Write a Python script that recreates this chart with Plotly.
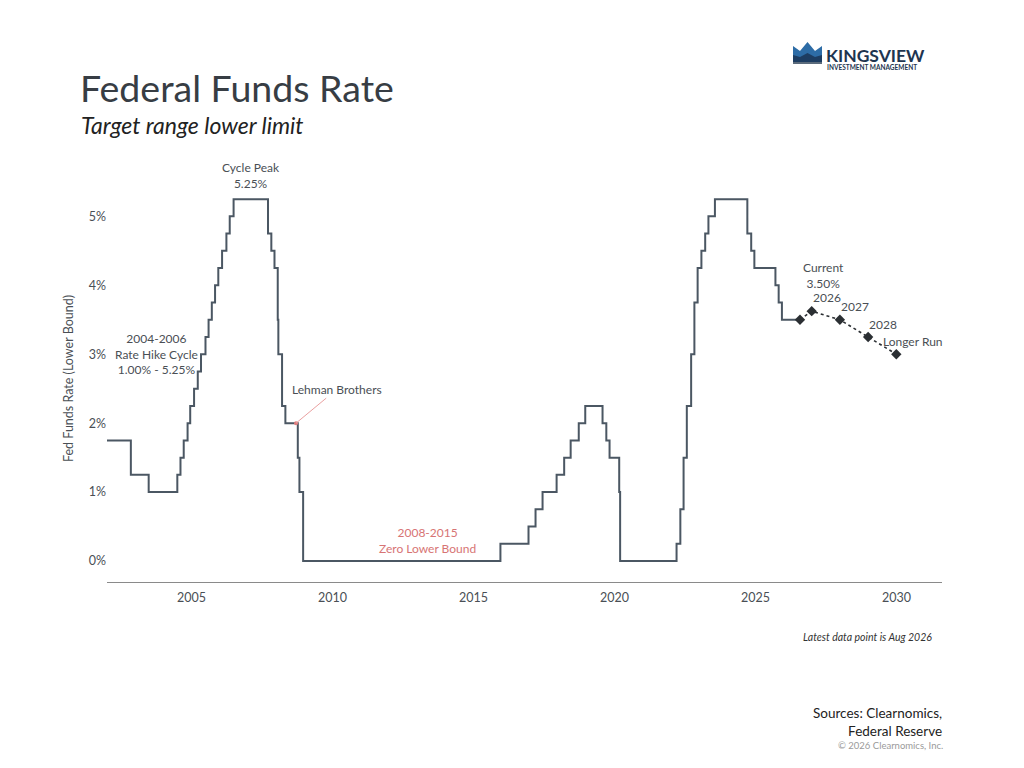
import plotly.graph_objects as go

# Cambios del tipo objetivo (limite inferior), fecha -> tasa
fechas = ["2002-01-01", "2002-11-06", "2003-06-25", "2004-06-30", "2004-08-10",
          "2004-09-21", "2004-11-10", "2004-12-14", "2005-02-02", "2005-03-22",
          "2005-05-03", "2005-06-30", "2005-08-09", "2005-09-20", "2005-11-01",
          "2005-12-13", "2006-01-31", "2006-03-28", "2006-05-10", "2006-06-29",
          "2007-09-18", "2007-10-31", "2007-12-11", "2008-01-22", "2008-01-30",
          "2008-03-18", "2008-04-30", "2008-10-08", "2008-10-29", "2008-12-16",
          "2015-12-16", "2016-12-14", "2017-03-15", "2017-06-14", "2017-12-13",
          "2018-03-21", "2018-06-13", "2018-09-26", "2018-12-19", "2019-07-31",
          "2019-09-18", "2019-10-30", "2020-03-03", "2020-03-15", "2022-03-16",
          "2022-05-04", "2022-06-15", "2022-07-27", "2022-09-21", "2022-11-02",
          "2022-12-14", "2023-02-01", "2023-03-22", "2023-05-03", "2023-07-26",
          "2024-09-18", "2024-11-07", "2024-12-18", "2025-09-17", "2025-10-29",
          "2025-12-10", "2026-08-01"]
tasas = [1.75, 1.25, 1.0, 1.25, 1.5, 1.75, 2.0, 2.25, 2.5, 2.75,
         3.0, 3.25, 3.5, 3.75, 4.0, 4.25, 4.5, 4.75, 5.0, 5.25,
         4.75, 4.5, 4.25, 3.5, 3.0, 2.25, 2.0, 1.5, 1.0, 0.0,
         0.25, 0.5, 0.75, 1.0, 1.25, 1.5, 1.75, 2.0, 2.25, 2.0,
         1.75, 1.5, 1.0, 0.0, 0.25, 0.75, 1.5, 2.25, 3.0, 3.75,
         4.25, 4.5, 4.75, 5.0, 5.25, 4.75, 4.5, 4.25, 4.0, 3.75,
         3.5, 3.5]

# Proyecciones (puntos de la Fed)
proy_fechas = ["2026-08-01", "2026-12-31", "2027-12-31", "2028-12-31", "2029-12-31"]
proy_tasas = [3.5, 3.625, 3.5, 3.25, 3.0]
proy_etiquetas = ["Current<br>3.50%", "2026", "2027", "2028", "Longer Run"]

lehman_fecha = "2008-09-15"
lehman_tasa = 2.0

anios_ticks = [2005, 2010, 2015, 2020, 2025, 2030]
y_ticks = [0, 1, 2, 3, 4, 5]

FUENTE = "Lato"
GRIS = "#4a4f55"
LINEA = "#4b5763"

# la pagina tiene 8px de margen; todo se mide en px de la captura
OFF = 8
W, H = 1024 - 2 * OFF, 768 - 2 * OFF
L, T = 107 - OFF, 175 - OFF
R = W - (942 - OFF)
B = H - (582 - OFF)


def px(x, y):
    # pixel de la captura -> coordenadas paper
    x, y = x - OFF, y - OFF
    return (x - L) / (W - L - R), (H - B - y) / (H - B - T)


fig = go.Figure()

fig.add_trace(go.Scatter(x=fechas, y=tasas, mode="lines", line_shape="hv",
                         line=dict(color=LINEA, width=2), hoverinfo="skip"))

fig.add_trace(go.Scatter(x=proy_fechas, y=proy_tasas, mode="lines+markers",
                         line=dict(color="#2b2f33", width=1.6, dash="dot"),
                         marker=dict(symbol="diamond", size=8, color="#2b2f33"),
                         hoverinfo="skip"))

fig.add_trace(go.Scatter(x=[lehman_fecha], y=[lehman_tasa], mode="markers",
                         marker=dict(size=4, color="#e07d7d"), hoverinfo="skip"))

anotaciones = []

# etiquetas de proyecciones
desplaz = [(24, 44), (15, 14), (15, 13), (15, 13), (17, 13)]
for f, t, txt, (dx, dy) in zip(proy_fechas, proy_tasas, proy_etiquetas, desplaz):
    anotaciones.append(dict(x=f, y=t, text=txt, showarrow=False, xshift=dx, yshift=dy,
                            font=dict(family=FUENTE, size=12, color=GRIS)))

anotaciones += [
    dict(x="2007-02-15", y=5.25, text="Cycle Peak<br>5.25%", showarrow=False,
         yanchor="bottom", yshift=6, font=dict(family=FUENTE, size=12, color=GRIS)),
    dict(x="2003-10-01", y=3.0, text="2004-2006<br>Rate Hike Cycle<br>1.00% - 5.25%",
         showarrow=False, font=dict(family=FUENTE, size=12, color=GRIS)),
    dict(x=lehman_fecha, y=lehman_tasa, text="Lehman Brothers", showarrow=True,
         arrowhead=0, arrowwidth=1, arrowcolor="#eaa0a0", ax=41, ay=-34,
         font=dict(family=FUENTE, size=12, color=GRIS)),
    dict(x="2013-05-15", y=0.3, text="2008-2015<br>Zero Lower Bound", showarrow=False,
         font=dict(family=FUENTE, size=12, color="#d77474")),
]


# titulos y textos
def texto(x, y, txt, size, color, xanchor="left", italic=False, bold=False):
    xp, yp = px(x, y)
    if bold:
        txt = "<b>" + txt + "</b>"
    if italic:
        txt = "<i>" + txt + "</i>"
    return dict(xref="paper", yref="paper", x=xp, y=yp, text=txt, showarrow=False,
                xanchor=xanchor, yanchor="middle", align=xanchor,
                font=dict(family=FUENTE, size=size, color=color))


anotaciones += [
    texto(78, 87, "Federal Funds Rate", 37.5, "#373d44"),
    texto(79, 125, "Target range lower limit", 23, "#222222", italic=True),
    texto(934, 637, "Latest data point is Aug 2026", 10.5, "#333333", xanchor="right", italic=True),
    texto(944, 722, "Sources: Clearnomics,<br>Federal Reserve", 13.5, "#222222", xanchor="right"),
    texto(945, 745, "© 2026 Clearnomics, Inc.", 9.5, "#9a9a9a", xanchor="right"),
    texto(824, 55, "KINGSVIEW", 17.5, "#1e3550", bold=True),
    texto(825, 67, "INVESTMENT MANAGEMENT", 6.5, "#1e3550", bold=True),
]


# logo (corona)
def ruta(puntos):
    partes = []
    for i, (x, y) in enumerate(puntos):
        xp, yp = px(x, y)
        partes.append(("M" if i == 0 else "L") + f"{xp:.5f},{yp:.5f}")
    return " ".join(partes) + " Z"


corona = [(793, 62), (793, 46), (800, 51), (807.5, 42), (815, 51), (822, 46), (822, 62)]
banda = [(793, 62), (793, 55), (800, 57), (807.5, 53), (815, 57), (822, 55), (822, 62)]
base = [(793, 62), (822, 62), (822, 64), (793, 64)]
formas = [
    dict(type="path", xref="paper", yref="paper", path=ruta(corona),
         fillcolor="#2d6ca6", line=dict(width=0)),
    dict(type="path", xref="paper", yref="paper", path=ruta(banda),
         fillcolor="#1d3d62", line=dict(width=0)),
    dict(type="path", xref="paper", yref="paper", path=ruta(base),
         fillcolor="#5b6b7c", line=dict(width=0)),
]

fig.update_layout(
    width=W, height=H,
    margin=dict(l=L, r=R, t=T, b=B),
    paper_bgcolor="white", plot_bgcolor="white",
    showlegend=False,
    annotations=anotaciones,
    shapes=formas,
    font=dict(family=FUENTE, color=GRIS),
)

fig.update_xaxes(
    type="date", range=["2002-01-01", "2031-08-15"],
    tickvals=[f"{a}-01-01" for a in anios_ticks],
    ticktext=[str(a) for a in anios_ticks],
    showgrid=False, zeroline=False,
    showline=True, linecolor="#8a8a8a", linewidth=1.3,
    ticks="", tickfont=dict(family=FUENTE, size=12.5, color=GRIS),
    ticklabelstandoff=4,
)

fig.update_yaxes(
    range=[-0.304, 5.6],
    tickvals=y_ticks, ticktext=[f"{v}%" for v in y_ticks],
    showgrid=False, zeroline=False, showline=False, ticks="",
    tickfont=dict(family=FUENTE, size=12.5, color=GRIS),
    title=dict(text="Fed Funds Rate (Lower Bound)", standoff=12,
               font=dict(family=FUENTE, size=12.5, color=GRIS)),
)

fig.write_html("out.html")
